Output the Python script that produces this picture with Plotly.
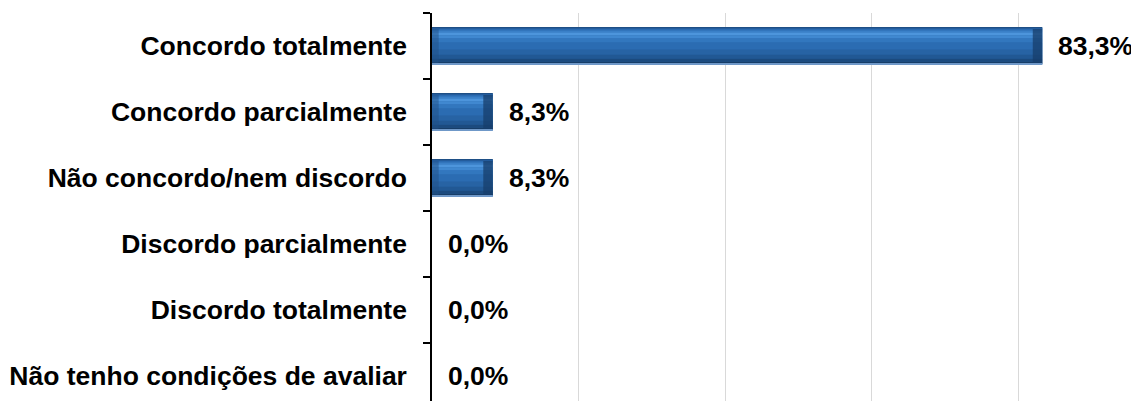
import plotly.graph_objects as go

categories = [
    "Concordo totalmente",
    "Concordo parcialmente",
    "Não concordo/nem discordo",
    "Discordo parcialmente",
    "Discordo totalmente",
    "Não tenho condições de avaliar",
]
values = [83.3, 8.3, 8.3, 0.0, 0.0, 0.0]

# plot bottom-to-top so the first category is at the top
cats_bt = categories[::-1]
vals_bt = values[::-1]

FONT = "Liberation Sans, Arial, sans-serif"
FSIZE = 26.5
BAR_W = 0.56
SLOT_PX = 66.0
BAR_PX = BAR_W * SLOT_PX

fig = go.Figure()

# base bar
fig.add_trace(go.Bar(
    x=vals_bt, y=cats_bt, orientation="h", width=BAR_W,
    marker=dict(color="#2a6bb0", line=dict(width=0)),
    hoverinfo="skip", showlegend=False,
))

# shading strips (from top of bar, in px): simulate the bevelled gradient
strips = [
    (0, 1, "#1e4f86"),
    (1, 3, "#2a6bb2"),
    (3, 5, "#3a80c8"),
    (5, 8, "#4d95dc"),
    (8, 11, "#4088d0"),
    (11, 15, "#3277be"),
    (15, 22, "#2b6cb2"),
    (22, 27, "#2763a4"),
    (27, 31, "#215894"),
    (31, 34, "#1b4a7e"),
    (34, 35.5, "#163d68"),
    (35.5, BAR_PX, "#6f98c8"),
]
for a, b, col in strips:
    fig.add_trace(go.Bar(
        x=vals_bt, y=cats_bt, orientation="h",
        width=(b - a) / SLOT_PX,
        offset=BAR_W / 2 - b / SLOT_PX,
        marker=dict(color=col, line=dict(width=0)),
        hoverinfo="skip", showlegend=False,
    ))

# darker bevelled ends of the bars
END = 1.3
end_len = [min(v, END) for v in vals_bt]
fig.add_trace(go.Bar(
    x=end_len, y=cats_bt, orientation="h", width=(BAR_PX - 3) / SLOT_PX,
    base=[v - e for v, e in zip(vals_bt, end_len)],
    marker=dict(color="#173e6b", opacity=0.75, line=dict(width=0)),
    hoverinfo="skip", showlegend=False,
))
fig.add_trace(go.Bar(
    x=[e * 0.7 for e in end_len], y=cats_bt, orientation="h", width=(BAR_PX - 3) / SLOT_PX,
    base=[0.0 for _ in vals_bt],
    marker=dict(color="#1f4f86", opacity=0.5, line=dict(width=0)),
    hoverinfo="skip", showlegend=False,
))

for c, v in zip(cats_bt, vals_bt):
    fig.add_annotation(
        x=v, y=c, xref="x", yref="y",
        text=f"{v:.1f}".replace(".", ",") + "%",
        showarrow=False, xanchor="left", yanchor="middle", xshift=14,
        font=dict(family=FONT, size=FSIZE, color="#000000", weight="bold"),
    )

fig.update_layout(
    width=1131, height=393,
    margin=dict(l=424, r=11, t=5, b=0),
    paper_bgcolor="white", plot_bgcolor="white",
    barmode="overlay",
    font=dict(family=FONT, size=FSIZE, color="#000000"),
    xaxis=dict(
        range=[0, 95], dtick=20, showgrid=True, gridcolor="#d9d9d9", gridwidth=1,
        showticklabels=False, zeroline=False, showline=False, ticks="",
        fixedrange=True,
    ),
    yaxis=dict(
        type="category", categoryorder="array", categoryarray=cats_bt,
        range=[-0.379, 5.5],
        showline=True, linecolor="#000000", linewidth=1.5,
        ticks="outside", ticklen=7, tickwidth=1.5, tickcolor="#000000",
        tickson="boundaries", showgrid=False, zeroline=False,
        ticklabelstandoff=18, automargin=False,
        tickfont=dict(family=FONT, size=FSIZE, color="#000000", weight="bold"),
        fixedrange=True,
    ),
)

fig.write_html("out.html")
